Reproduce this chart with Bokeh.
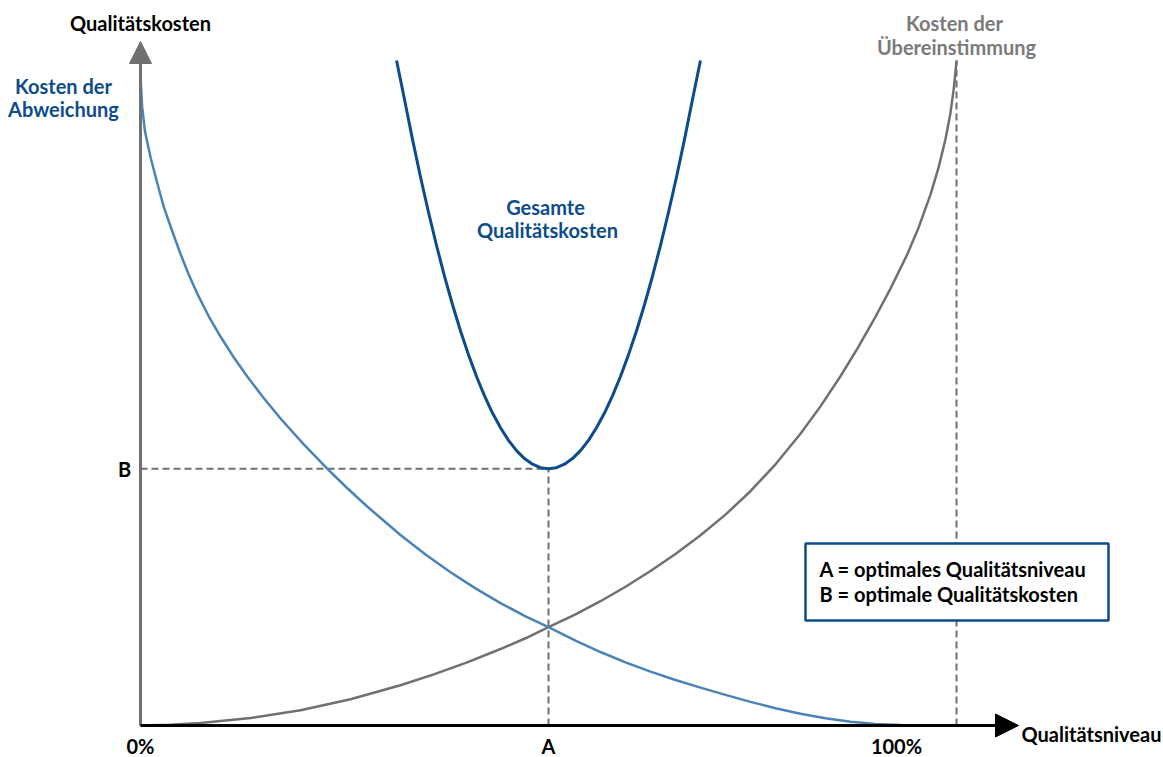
from bokeh.plotting import figure
from bokeh.models import Range1d, Label, Arrow, NormalHead, BoxAnnotation
from bokeh.embed import file_html
from bokeh.resources import INLINE

# ---- data (x = Qualitätsniveau in %, y = cost units) ----
# Kosten der Abweichung (decreasing)
abw_x = [0, 0.04, 0.21, 0.55, 1.23, 2.00, 2.86, 3.86, 4.90, 5.88, 6.95, 8.33, 9.80, 11.40,
         13.08, 15.07, 17.16, 19.98, 22.88, 25.25, 27.78, 31.86, 34.93, 37.99, 41.05, 44.12,
         47.18, 50.0, 53.31, 56.37, 59.44, 62.50, 65.56, 68.63, 71.69, 74.75, 77.82, 80.88,
         83.95, 87.01, 90.07, 93.14, 96.2, 100]
abw_y = [100, 96.54, 92.98, 89.32, 85.46, 81.80, 77.94, 74.44, 70.93, 67.89, 64.95, 61.61,
         58.49, 55.42, 52.48, 49.28, 46.17, 42.31, 38.63, 35.79, 32.93, 28.65, 25.70, 23.04,
         20.62, 18.41, 16.42, 14.78, 12.75, 11.05, 9.50, 8.10, 6.85, 5.70, 4.60, 3.55, 2.60,
         1.78, 1.10, 0.58, 0.24, 0.06, 0.0, 0]

# Kosten der Übereinstimmung (increasing)
ueb_x = [0, 3.68, 7.35, 13.48, 19.61, 25.74, 31.86, 35.94, 39.95, 44.12, 47.18, 50.0, 53.31,
         56.37, 59.44, 62.50, 65.56, 68.63, 71.69, 74.75, 77.82, 80.88, 83.33, 85.78, 87.87,
         89.86, 91.91, 93.96, 95.34, 96.81, 97.79, 98.65, 99.26, 99.67, 99.91, 100]
ueb_y = [0, 0.11, 0.385, 1.12, 2.29, 3.94, 6.05, 7.68, 9.46, 11.50, 13.12, 14.78, 16.70,
         18.69, 20.87, 23.23, 25.80, 28.62, 31.71, 35.23, 39.28, 43.87, 47.99, 52.52, 56.70,
         60.98, 65.70, 70.83, 74.83, 79.83, 83.85, 88.15, 92.12, 95.81, 98.7, 100]

# Gesamte Qualitätskosten (U-shaped)
ges_x = [31.38, 32.36, 33.34, 34.32, 35.30, 36.28, 37.26, 38.24, 39.22, 40.20, 41.18, 42.16,
         43.14, 44.12, 45.10, 46.08, 47.06, 48.04, 49.02, 50.0, 50.98, 51.96, 52.94, 53.92,
         54.90, 55.88, 56.86, 57.84, 58.82, 59.80, 60.78, 61.76, 62.74, 63.72, 64.70, 65.68,
         66.66, 67.64, 68.62]
ges_y = [100, 94.1, 88.1, 82.45, 77.14, 72.18, 67.55, 63.27, 59.33, 55.73, 52.48, 49.56,
         46.99, 44.77, 42.88, 41.34, 40.14, 39.29, 38.77, 38.6, 38.77, 39.29, 40.14, 41.34,
         42.88, 44.77, 46.99, 49.56, 52.48, 55.73, 59.33, 63.27, 67.55, 72.18, 77.14, 82.45,
         88.1, 94.1, 100]

opt_A = 50.0      # optimales Qualitätsniveau
opt_B = 38.6      # optimale Qualitätskosten
full_x = 100.0    # 100 %
dash_top = 100.0

x_ticks = ["0%", "A", "100%"]

# ---- layout helpers: reference pixel -> data ----
W, H = 1163, 757
PXX, PXY = 8.16, 6.65
def dx(px):
    return (px - 140) / PXX
def dy(py):
    return (725 - py) / PXY

p = figure(width=W, height=H, output_backend="svg", toolbar_location=None,
           x_range=Range1d(dx(0), dx(W)), y_range=Range1d(dy(H), dy(0)),
           min_border=0, outline_line_color=None, background_fill_color="white")
p.xaxis.visible = False
p.yaxis.visible = False
p.grid.visible = False

GRAY = "#707070"
LBLUE = "#4a84b6"
DBLUE = "#0d4c8a"
FONT = "Lato"

# dashed guide lines
p.line([0, opt_A], [opt_B, opt_B], line_color=GRAY, line_width=2, line_dash="7 4")
p.line([opt_A, opt_A], [0, opt_B], line_color=GRAY, line_width=2, line_dash="7 4")
p.line([full_x, full_x], [0, dash_top], line_color=GRAY, line_width=2, line_dash="7 4")

# curves
p.line(ueb_x, ueb_y, line_color=GRAY, line_width=2.5, line_join="round")
p.line(abw_x, abw_y, line_color=LBLUE, line_width=2.5, line_join="round")
p.line(ges_x, ges_y, line_color=DBLUE, line_width=3, line_join="round")

# axes with arrows
p.add_layout(Arrow(end=NormalHead(size=22, fill_color=GRAY, line_color=GRAY),
                   x_start=0, y_start=0, x_end=0, y_end=dy(41),
                   line_color=GRAY, line_width=3))
p.add_layout(Arrow(end=NormalHead(size=23, fill_color="black", line_color="black"),
                   x_start=0, y_start=0, x_end=dx(1018), y_end=0,
                   line_color="black", line_width=3))

# legend box
p.add_layout(BoxAnnotation(left=dx(805), right=dx(1108), top=dy(543), bottom=dy(620),
                           fill_color="white", fill_alpha=1.0,
                           line_color=DBLUE, line_width=2.5, line_alpha=1.0))

def lab(x, y, text, color="black", align="center", size="20px"):
    p.add_layout(Label(x=x, y=y, text=text, text_color=color, text_font=FONT,
                       text_font_style="bold", text_font_size=size,
                       text_align=align, text_baseline="middle"))

lab(dx(140), dy(22), "Qualitätskosten")
lab(dx(1091), dy(733), "Qualitätsniveau")
lab(dx(63), dy(85), "Kosten der", DBLUE)
lab(dx(63), dy(108), "Abweichung", DBLUE)
lab(dx(954), dy(22), "Kosten der", "#7a7a7a")
lab(dx(956), dy(46), "Übereinstimmung", "#7a7a7a")
lab(dx(545), dy(206), "Gesamte", DBLUE)
lab(dx(547), dy(229), "Qualitätskosten", DBLUE)
lab(dx(124), dy(468), "B")
lab(0, dy(745), x_ticks[0])
lab(opt_A, dy(745), x_ticks[1])
lab(dx(896), dy(745), x_ticks[2])
lab(dx(819), dy(568), "A = optimales Qualitätsniveau", align="left")
lab(dx(819), dy(593), "B = optimale Qualitätskosten", align="left")

open("out.html", "w").write(file_html(p, INLINE))
